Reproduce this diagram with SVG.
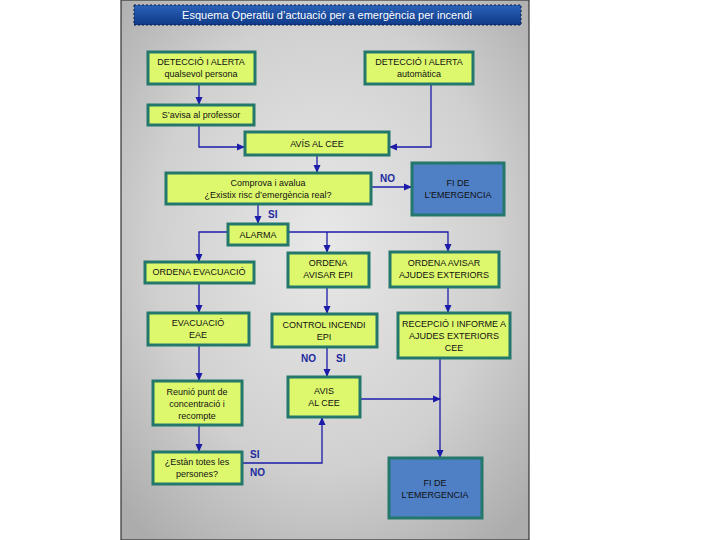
<svg xmlns="http://www.w3.org/2000/svg" width="720" height="540" viewBox="0 0 720 540">
<defs>
<radialGradient id="bg" cx="0.5" cy="0.45" r="0.7">
<stop offset="0" stop-color="#e8e8e8"/>
<stop offset="0.6" stop-color="#d0d0d0"/>
<stop offset="1" stop-color="#acacac"/>
</radialGradient>
<linearGradient id="tb" x1="0" y1="0" x2="0" y2="1">
<stop offset="0" stop-color="#2a62b8"/>
<stop offset="1" stop-color="#103a88"/>
</linearGradient>
<marker id="ah" markerWidth="8" markerHeight="8" refX="7" refY="4" orient="auto" markerUnits="userSpaceOnUse">
<path d="M0,0.5 L8,4 L0,7.5 Z" fill="#1c1ca8"/>
</marker>
<style>
.n{fill:#def86e;stroke:#23776b;stroke-width:3}
.b{fill:#4f80c6;stroke:#23776b;stroke-width:3}
.t{font-family:"Liberation Sans",Arial,sans-serif;font-size:9px;fill:#111;text-anchor:middle}
.c{fill:none;stroke:#1c1ca8;stroke-width:1.3}
.l{font-family:"Liberation Sans",Arial,sans-serif;font-size:10px;font-weight:bold;fill:#1c2a9c}
</style>
</defs>
<rect width="720" height="540" fill="#ffffff"/>
<rect x="121" y="0" width="408" height="540" fill="url(#bg)" stroke="#333" stroke-width="1.2"/>
<g id="title">
<rect x="134" y="5" width="387" height="20" fill="url(#tb)" stroke="#0a1a40" stroke-width="1" stroke-dasharray="2,2"/>
<text x="327" y="19" font-family="Liberation Sans,Arial,sans-serif" font-size="11" fill="#fff" text-anchor="middle">Esquema Operatiu d’actuació per a emergència per incendi</text>
</g>
<g id="connectors">
<path class="c" d="M199,84 V104" marker-end="url(#ah)"/>
<path class="c" d="M199,125 V147 H244" marker-end="url(#ah)"/>
<path class="c" d="M431,84 V147 H390" marker-end="url(#ah)"/>
<path class="c" d="M317,155 V172" marker-end="url(#ah)"/>
<path class="c" d="M371,187 H411" marker-end="url(#ah)"/>
<path class="c" d="M258,204 V223" marker-end="url(#ah)"/>
<path class="c" d="M228,232 H199 V261" marker-end="url(#ah)"/>
<path class="c" d="M288,232 H448 V251" marker-end="url(#ah)"/>
<path class="c" d="M327,232 V252" marker-end="url(#ah)"/>
<path class="c" d="M199,283 V312" marker-end="url(#ah)"/>
<path class="c" d="M327,287 V313" marker-end="url(#ah)"/>
<path class="c" d="M448,287 V312" marker-end="url(#ah)"/>
<path class="c" d="M199,345 V380" marker-end="url(#ah)"/>
<path class="c" d="M327,347 V376" marker-end="url(#ah)"/>
<path class="c" d="M440,358 V457" marker-end="url(#ah)"/>
<path class="c" d="M360,399 H440" marker-end="url(#ah)"/>
<path class="c" d="M199,425 V451" marker-end="url(#ah)"/>
<path class="c" d="M242,463 H322 V418" marker-end="url(#ah)"/>
<text class="l" x="380" y="182">NO</text>
<text class="l" x="268" y="218">SI</text>
<text class="l" x="301" y="362">NO</text>
<text class="l" x="336" y="362">SI</text>
<text class="l" x="250" y="458">SI</text>
<text class="l" x="250" y="476">NO</text>
</g>
<g id="n1"><rect class="n" x="148" y="52" width="107" height="32"/><text class="t" x="201" y="65">DETECCIÓ I ALERTA</text><text class="t" x="201" y="77">qualsevol persona</text></g>
<g id="n2"><rect class="n" x="365" y="52" width="108" height="32"/><text class="t" x="419" y="65">DETECCIÓ I ALERTA</text><text class="t" x="419" y="77">automàtica</text></g>
<g id="n3"><rect class="n" x="148" y="105" width="106" height="20"/><text class="t" x="201" y="118">S’avisa al professor</text></g>
<g id="n4"><rect class="n" x="245" y="132" width="144" height="23"/><text class="t" x="317" y="147">AVÍS AL CEE</text></g>
<g id="n5"><rect class="n" x="166" y="173" width="205" height="31"/><text class="t" x="268" y="186">Comprova i avalua</text><text class="t" x="268" y="198">¿Existix risc d’emergència real?</text></g>
<g id="n6"><rect class="b" x="412" y="163" width="92" height="52"/><text class="t" x="458" y="186">FI DE</text><text class="t" x="458" y="198">L’EMERGENCIA</text></g>
<g id="n7"><rect class="n" x="228" y="224" width="60" height="21"/><text class="t" x="258" y="238">ALARMA</text></g>
<g id="n8"><rect class="n" x="145" y="262" width="109" height="21"/><text class="t" x="199" y="275">ORDENA EVACUACIÓ</text></g>
<g id="n9"><rect class="n" x="288" y="253" width="81" height="34"/><text class="t" x="328" y="266">ORDENA</text><text class="t" x="328" y="278">AVISAR EPI</text></g>
<g id="n10"><rect class="n" x="390" y="252" width="109" height="35"/><text class="t" x="444" y="266">ORDENA AVISAR</text><text class="t" x="444" y="278">AJUDES EXTERIORS</text></g>
<g id="n11"><rect class="n" x="148" y="313" width="101" height="32"/><text class="t" x="198" y="326">EVACUACIÓ</text><text class="t" x="198" y="338">EAE</text></g>
<g id="n12"><rect class="n" x="272" y="314" width="105" height="33"/><text class="t" x="324" y="328">CONTROL INCENDI</text><text class="t" x="324" y="340">EPI</text></g>
<g id="n13"><rect class="n" x="398" y="313" width="112" height="45"/><text class="t" x="454" y="327">RECEPCIÓ I INFORME A</text><text class="t" x="454" y="339">AJUDES EXTERIORS</text><text class="t" x="454" y="351">CEE</text></g>
<g id="n14"><rect class="n" x="288" y="377" width="72" height="40"/><text class="t" x="324" y="394">AVIS</text><text class="t" x="324" y="406">AL CEE</text></g>
<g id="n15"><rect class="n" x="153" y="381" width="89" height="44"/><text class="t" x="197" y="395">Reunió punt de</text><text class="t" x="197" y="407">concentració i</text><text class="t" x="197" y="419">recompte</text></g>
<g id="n16"><rect class="n" x="153" y="452" width="89" height="32"/><text class="t" x="197" y="465">¿Estàn totes les</text><text class="t" x="197" y="477">persones?</text></g>
<g id="n17"><rect class="b" x="389" y="458" width="93" height="60"/><text class="t" x="435" y="486">FI DE</text><text class="t" x="435" y="498">L’EMERGENCIA</text></g>
</svg>
